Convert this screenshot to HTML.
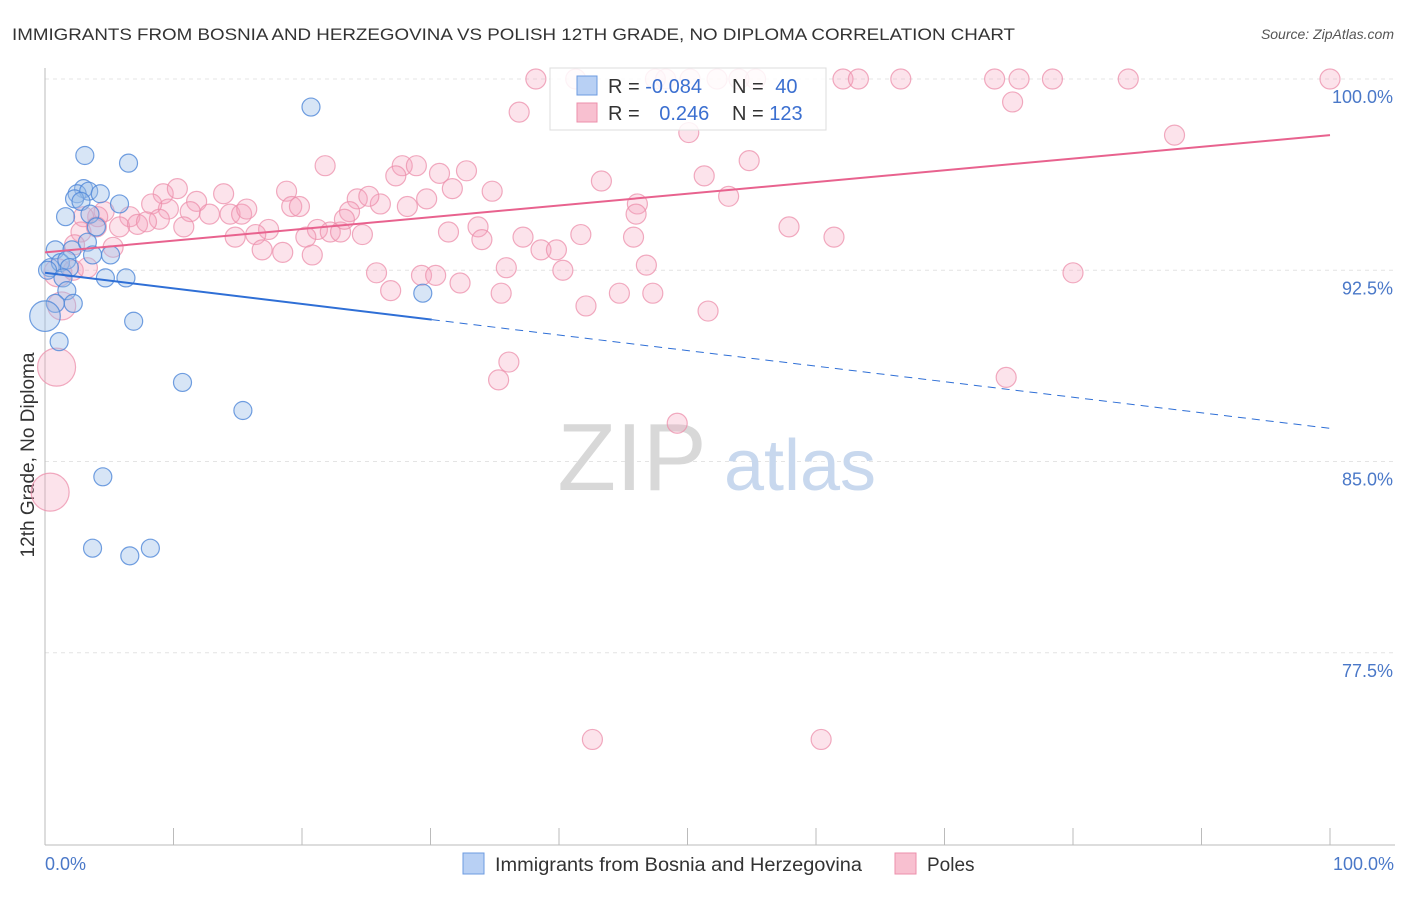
<!DOCTYPE html>
<html><head><meta charset="utf-8"><style>
body{margin:0;background:#fff;font-family:"Liberation Sans",sans-serif}
svg text{font-family:"Liberation Sans",sans-serif}
</style></head><body>
<svg width="1406" height="892">
<text x="12" y="40" font-size="17" fill="#333" textLength="1003" lengthAdjust="spacingAndGlyphs">IMMIGRANTS FROM BOSNIA AND HERZEGOVINA VS POLISH 12TH GRADE, NO DIPLOMA CORRELATION CHART</text>
<text x="1394" y="39" font-size="14" fill="#555" font-style="italic" text-anchor="end">Source: ZipAtlas.com</text>
<g id="grid"></g>
<text x="632" y="490" font-size="96" fill="#d8d8d8" font-family="Liberation Serif" text-anchor="middle">ZIP</text>
<text x="800" y="490" font-size="72" fill="#c8d8ee" text-anchor="middle">atlas</text>
<line x1="45" y1="68" x2="45" y2="845" stroke="#bbb"/>
<line x1="45" y1="845" x2="1395" y2="845" stroke="#bbb"/>
<text transform="translate(34,455) rotate(-90)" font-size="19" fill="#333" text-anchor="middle">12th Grade, No Diploma</text>
<text x="45" y="870" font-size="18" fill="#4a78c8">0.0%</text>
<text x="1394" y="870" font-size="18" fill="#4a78c8" text-anchor="end">100.0%</text>
<g id="pts"></g>
<g id="lines"></g>
<g>
<rect x="550" y="68" width="276" height="62" fill="#fff" fill-opacity="0.85" stroke="#ddd"/>
<rect x="577" y="76" width="20" height="19" fill="#b8d0f4" stroke="#6d9be0"/>
<rect x="577" y="103" width="20" height="19" fill="#f8c0d0" stroke="#ec8fab"/>
<text x="608" y="93" font-size="20" fill="#333">R = <tspan fill="#3b6fd0">-0.084</tspan></text>
<text x="732" y="93" font-size="20" fill="#333">N = <tspan fill="#3b6fd0" dx="6">40</tspan></text>
<text x="608" y="120" font-size="20" fill="#333">R = <tspan fill="#3b6fd0" dx="14">0.246</tspan></text>
<text x="732" y="120" font-size="20" fill="#333">N = <tspan fill="#3b6fd0">123</tspan></text>
</g>
<g>
<rect x="463" y="853" width="21" height="21" fill="#b8d0f4" stroke="#6d9be0"/>
<text x="495" y="871" font-size="19" fill="#333" textLength="367" lengthAdjust="spacingAndGlyphs">Immigrants from Bosnia and Herzegovina</text></g>
<g>
<rect x="895" y="853" width="21" height="21" fill="#f8c0d0" stroke="#ec8fab"/>
<text x="927" y="871" font-size="19" fill="#333">Poles</text></g>
</svg>
<script>
const yTicks=[100,92.5,85,77.5];
const yTickLabels=["100.0%","92.5%","85.0%","77.5%"];
const xTicks=[0,10,20,30,40,50,60,70,80,90,100];
const blueX=[20.7,3.1,6.5,3.0,2.5,3.4,4.3,2.3,2.8,5.8,1.6,3.5,4.0,0.8,2.1,3.3,3.7,5.1,0.4,1.2,1.7,1.9,0.2,4.7,6.3,1.4,1.7,0.8,2.2,0,6.9,1.1,10.7,15.4,29.4,4.5,3.7,6.6,8.2];
const blueY=[98.9,97.0,96.7,95.7,95.5,95.6,95.5,95.3,95.2,95.1,94.6,94.7,94.2,93.3,93.3,93.6,93.1,93.1,92.6,92.8,92.9,92.6,92.5,92.2,92.2,92.2,91.7,91.2,91.2,90.7,90.5,89.7,88.1,87.0,91.6,84.4,81.6,81.3,81.6];
const blueW=[1,1,1,1,1,1,1,1,1,1,1,1,1,1,1,1,1,1,1,1,1,1,1,1,1,1,1,1,1,1.7,1,1,1,1,1,1,1,1,1];
const pinkX=[38.2,41.3,47.5,48.3,50.2,52.3,54.0,55.3,62.1,63.3,66.6,73.9,75.8,78.4,84.3,100,36.9,75.3,87.9,50.1,54.8,21.8,27.8,28.9,30.7,32.8,27.3,43.3,51.3,31.7,34.8,18.8,9.2,10.3,13.9,11.8,9.6,8.3,53.2,46.1,46.0,28.2,26.1,24.3,25.2,29.7,19.2,19.8,23.7,11.3,12.8,14.4,15.3,15.7,8.9,6.6,4.6,4.1,3.0,5.8,7.2,7.9,10.8,17.4,21.2,22.2,23.0,20.3,24.7,23.3,31.4,33.7,34.0,37.2,38.6,39.8,41.7,45.8,57.9,61.4,14.8,16.4,16.9,18.5,20.8,5.3,2.8,2.3,1.0,2.2,3.3,25.8,29.3,30.4,35.9,40.3,46.8,80.0,26.9,32.3,35.5,44.7,47.3,42.1,51.6,36.1,35.3,74.8,49.2,42.6,60.4,1.3,4.0,0.9,0.4];
const pinkY=[100,100,100,100,100,100,100,100,100,100,100,100,100,100,100,100,98.7,99.1,97.8,97.9,96.8,96.6,96.6,96.6,96.3,96.4,96.2,96.0,96.2,95.7,95.6,95.6,95.5,95.7,95.5,95.2,94.9,95.1,95.4,95.1,94.7,95.0,95.1,95.3,95.4,95.3,95.0,95.0,94.8,94.8,94.7,94.7,94.7,94.9,94.5,94.6,94.8,94.6,94.6,94.2,94.3,94.4,94.2,94.1,94.1,94.0,94.0,93.8,93.9,94.5,94.0,94.2,93.7,93.8,93.3,93.3,93.9,93.8,94.2,93.8,93.8,93.9,93.3,93.2,93.1,93.4,94.0,93.5,92.4,92.5,92.6,92.4,92.3,92.3,92.6,92.5,92.7,92.4,91.7,92.0,91.6,91.6,91.6,91.1,90.9,88.9,88.2,88.3,86.5,74.1,74.1,91.1,94.2,88.7,83.8];
const pinkW=pinkX.map((_,i)=>i>=pinkX.length-2?1.9:(i==pinkX.length-4||i==88?1.4:1));
const blueTrend=[92.4,86.3], blueSolidEnd=30.1;
const pinkTrend=[93.2,97.8];
const NS="http://www.w3.org/2000/svg";
const sx=v=>45+v*12.85, sy=v=>79+(100-v)*25.5;
function mk(t,a,p){const e=document.createElementNS(NS,t);for(const k in a)e.setAttribute(k,a[k]);p.appendChild(e);return e;}
const grid=document.getElementById('grid');
yTicks.forEach((t,i)=>{
 const l=mk('line',{x1:45,x2:1395,y1:sy(t),y2:sy(t),stroke:'#e4e4e4','stroke-dasharray':'4,4'},grid);
 
 
 const tx=mk('text',{x:1393,y:sy(t)+24,'font-size':18,fill:'#4a78c8','text-anchor':'end'},grid);
 tx.textContent=yTickLabels[i];
 
 
});
xTicks.forEach(t=>{
 const l=mk('line',{x1:sx(t),x2:sx(t),y1:828,y2:845,stroke:'#bbb'},grid);
 
 
});
const pts=document.getElementById('pts');
pinkX.forEach((x,i)=>{
 const c=mk('circle',{cx:sx(x),cy:sy(pinkY[i]),r:10*pinkW[i],fill:'#f4a3bc','fill-opacity':0.3,stroke:'#ec8fab','stroke-opacity':0.75,'stroke-width':1.2},pts);
 
 
});
blueX.forEach((x,i)=>{
 const c=mk('circle',{cx:sx(x),cy:sy(blueY[i]),r:9*blueW[i],fill:'#9bbde9','fill-opacity':0.4,stroke:'#4f87d8','stroke-opacity':0.8,'stroke-width':1.2},pts);
 
 
});
const lines=document.getElementById('lines');
const by=x=>blueTrend[0]+(blueTrend[1]-blueTrend[0])*x/100;
let l1=mk('line',{x1:sx(0),y1:sy(by(0)),x2:sx(blueSolidEnd),y2:sy(by(blueSolidEnd)),stroke:'#2f6fd6','stroke-width':2},lines);


let l2=mk('line',{x1:sx(blueSolidEnd),y1:sy(by(blueSolidEnd)),x2:sx(100),y2:sy(by(100)),stroke:'#2f6fd6','stroke-width':1,'stroke-dasharray':'8,6'},lines);


let l3=mk('line',{x1:sx(0),y1:sy(pinkTrend[0]),x2:sx(100),y2:sy(pinkTrend[1]),stroke:'#e8628e','stroke-width':2},lines);


</script>
</body></html>
